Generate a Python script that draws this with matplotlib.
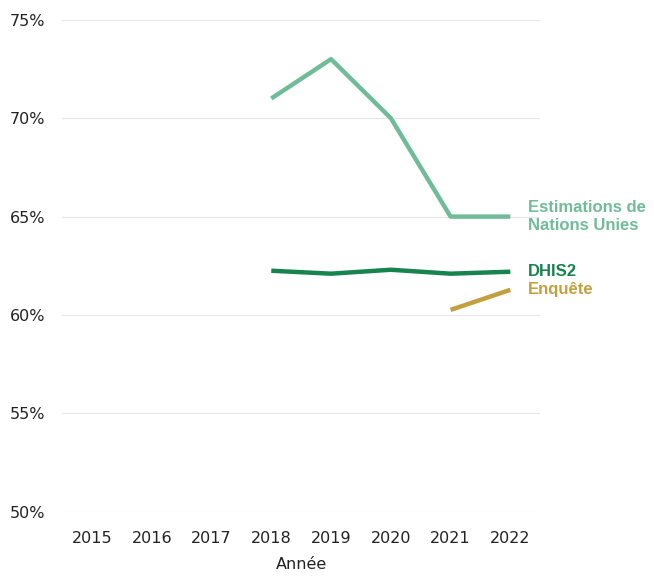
import matplotlib
matplotlib.use('Agg')
import matplotlib.pyplot as plt
from matplotlib.ticker import FuncFormatter

years = [2015, 2016, 2017, 2018, 2019, 2020, 2021, 2022]
un_years = [2018, 2019, 2020, 2021, 2022]
un_values = [71.0, 73.0, 70.0, 65.0, 65.0]
dhis2_years = [2018, 2019, 2020, 2021, 2022]
dhis2_values = [62.25, 62.1, 62.3, 62.1, 62.2]
enq_years = [2021, 2022]
enq_values = [60.26, 61.28]

c_un = '#70bc98'
c_dhis = '#17834f'
c_enq = '#c2a03e'

fig = plt.figure(figsize=(6.54, 5.81), dpi=100)
ax = fig.add_axes([0.095, 0.119, 0.731, 0.847])

ax.plot(un_years, un_values, color=c_un, lw=3.2, solid_capstyle='butt')
ax.plot(dhis2_years, dhis2_values, color=c_dhis, lw=3.2, solid_capstyle='butt')
ax.plot(enq_years, enq_values, color=c_enq, lw=3.2, solid_capstyle='butt')

ax.set_ylim(50, 75)
ax.set_xlim(2014.5, 2022.5)
ax.set_yticks([50, 55, 60, 65, 70, 75])
ax.yaxis.set_major_formatter(FuncFormatter(lambda v, p: f'{v:.0f}%'))
ax.set_xticks(years)
ax.grid(axis='y', color='#e6e6e6', lw=0.8)
ax.set_axisbelow(True)
for s in ax.spines.values():
    s.set_visible(False)
ax.tick_params(length=0, labelsize=11.5, colors='#222222')
ax.tick_params(axis='y', pad=12)
ax.tick_params(axis='x', pad=14)
ax.set_xlabel('Année', fontsize=11.5, color='#222222', labelpad=8)

lab = dict(fontsize=12, fontweight='bold', family=['Liberation Sans', 'DejaVu Sans'],
           va='center', ha='left', transform=ax.transData, clip_on=False)
ax.text(2022.3, 65.0, 'Estimations de\nNations Unies', color=c_un, linespacing=1.25, **lab)
ax.text(2022.3, 62.2, 'DHIS2', color=c_dhis, **lab)
ax.text(2022.3, 61.3, 'Enquête', color=c_enq, **lab)

fig.savefig('out.png', dpi=100)
